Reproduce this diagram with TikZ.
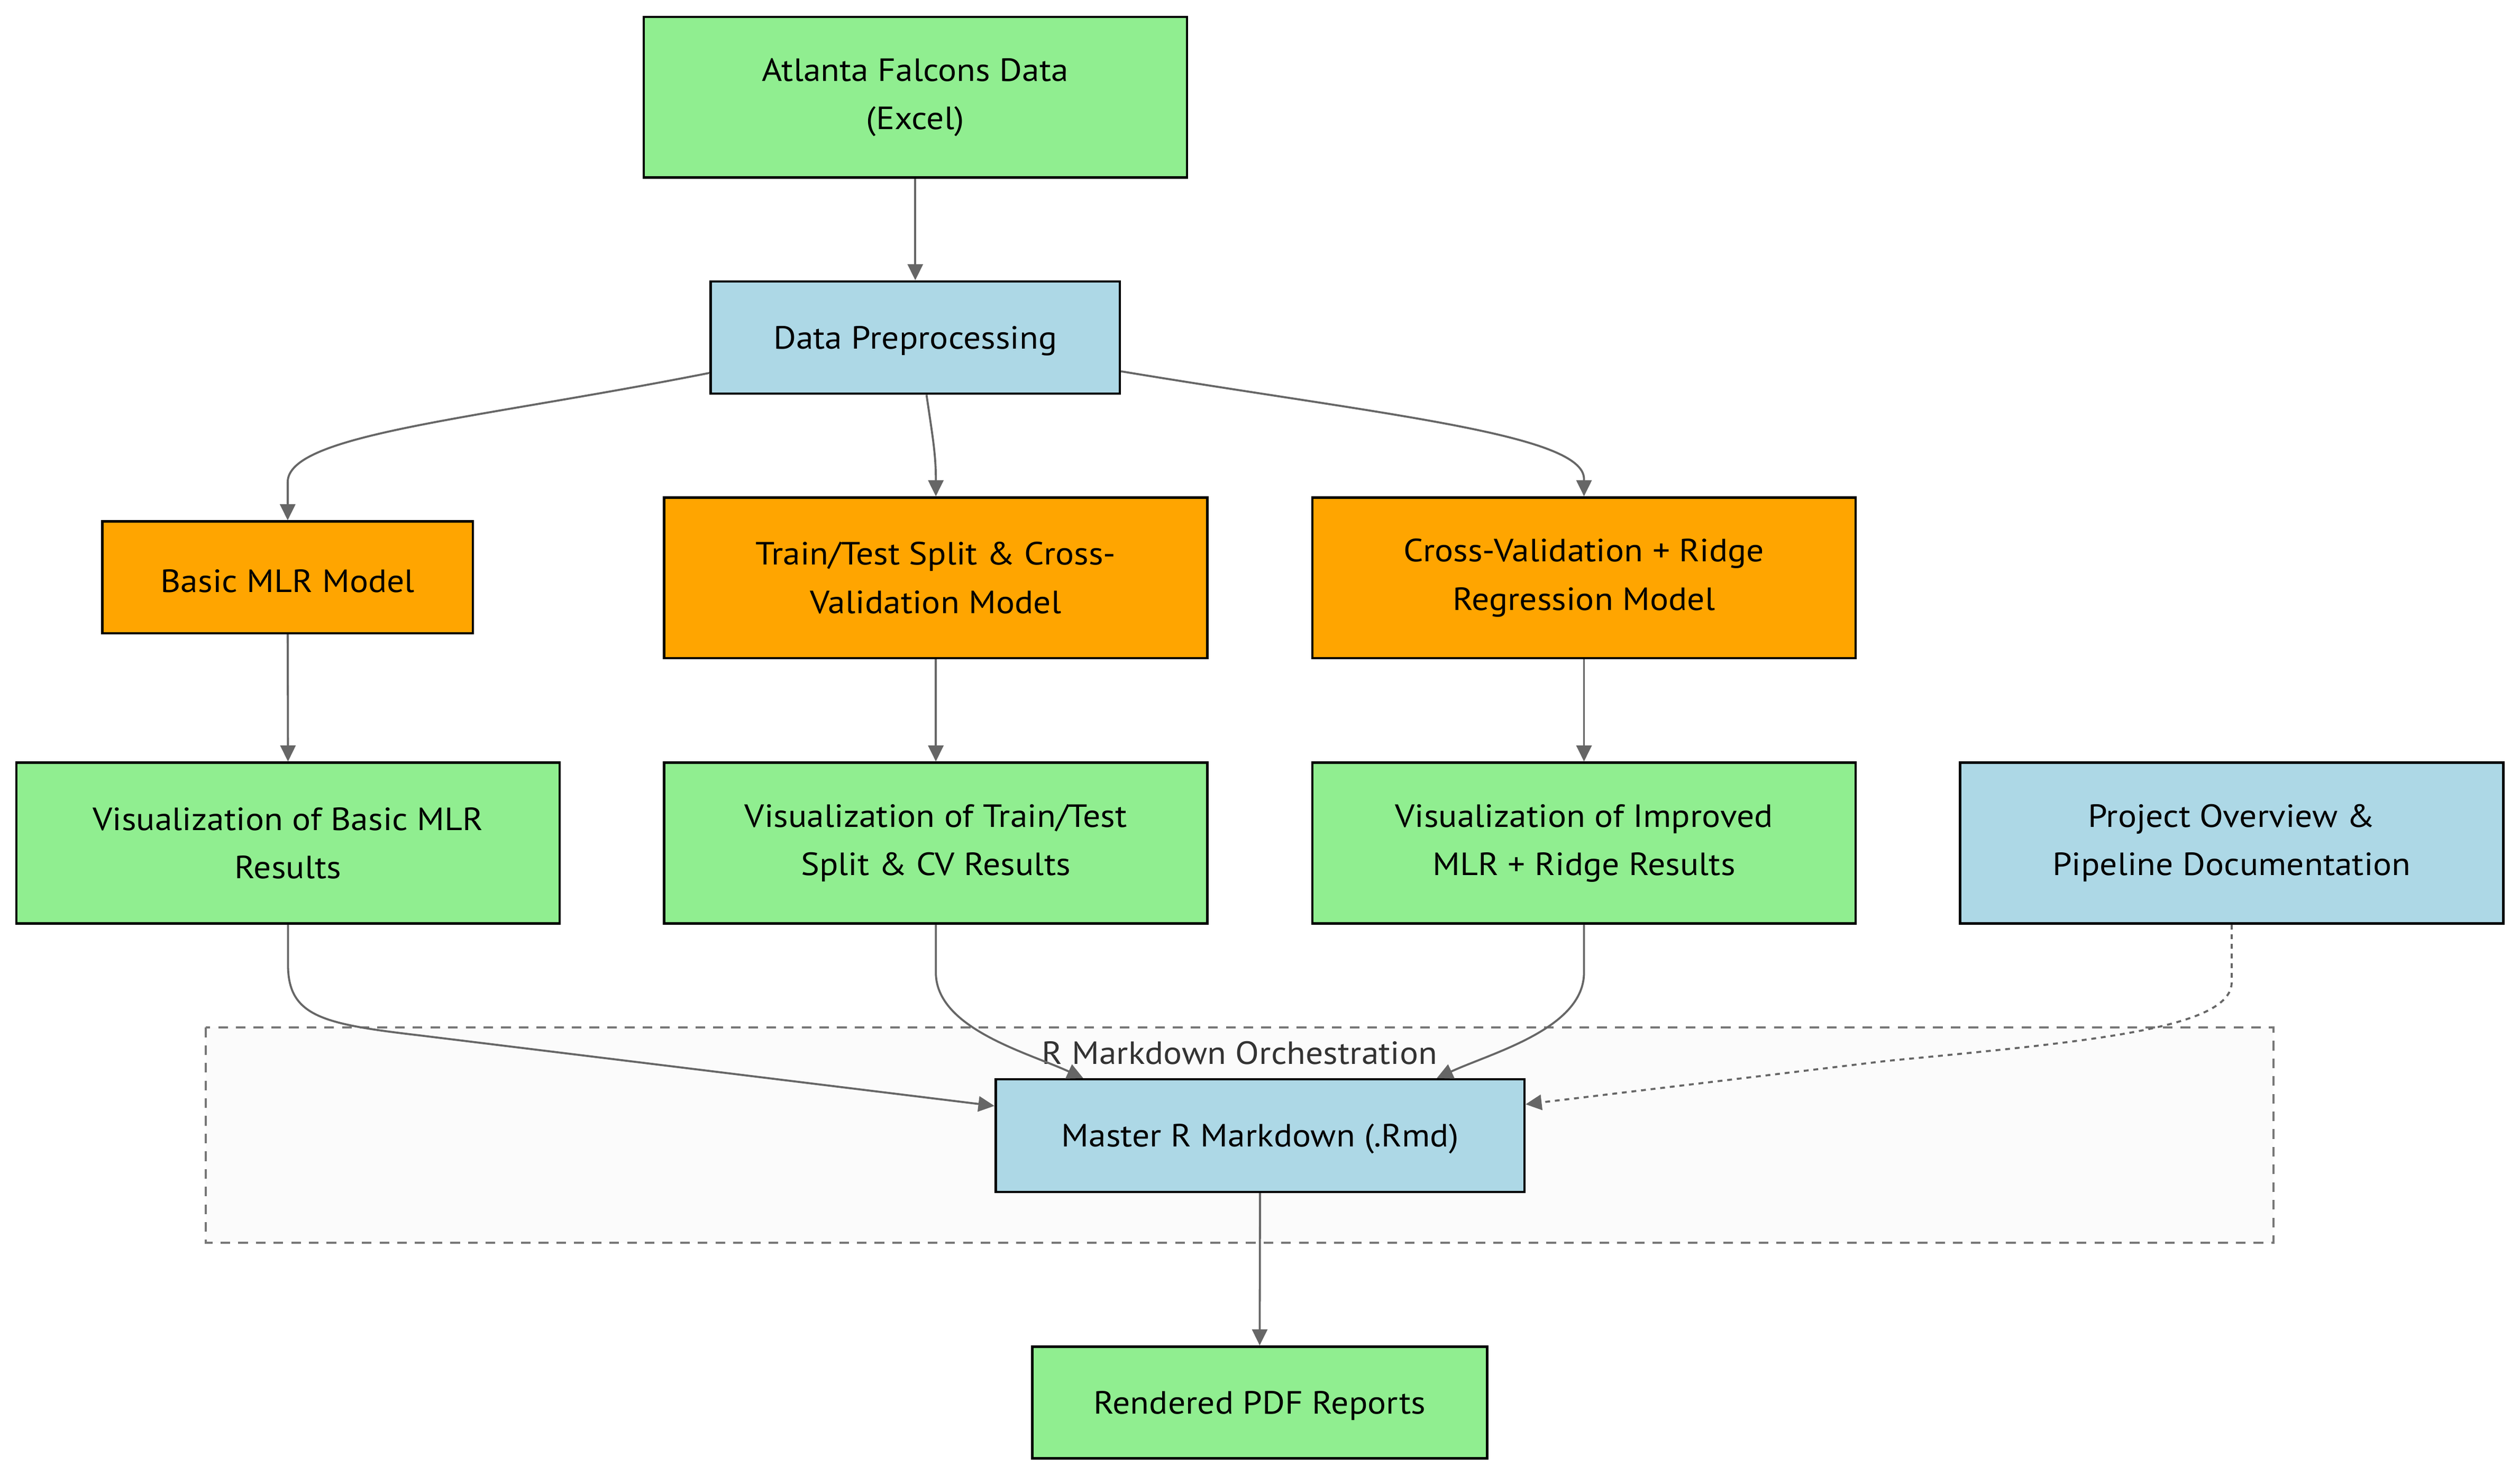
\documentclass[tikz,border=0pt]{standalone}
\usepackage{fontspec}
\setmainfont{PT Sans}[FakeStretch=1.08]
\usetikzlibrary{arrows.meta,calc}
\definecolor{lgreen}{HTML}{90EE90}
\definecolor{lblue}{HTML}{ADD8E6}
\definecolor{lorange}{HTML}{FFA500}
\definecolor{edgegray}{HTML}{666666}
\definecolor{clgray}{HTML}{777777}
\definecolor{clfill}{HTML}{FBFBFB}
\definecolor{labgray}{HTML}{333333}
\begin{document}
\begin{tikzpicture}[x=1pt,y=-1pt,
  box/.style={draw=black,line width=1.5pt,rectangle,inner sep=0pt,align=center,
    font=\fontsize{20}{30}\selectfont,execute at begin node={\rule{0pt}{18.5pt}}},
  wide/.style={box,minimum width=338pt,minimum height=100pt},
  greenbox/.style={fill=lgreen},
  bluebox/.style={fill=lblue},
  orangebox/.style={fill=lorange},
  conn/.style={draw=edgegray,line width=1.25pt,-{Triangle[length=10pt,width=9.5pt]}},
  dotconn/.style={conn,dash pattern=on 3pt off 3pt},
  cluster/.style={draw=clgray,fill=clfill,line width=1.3pt,dash pattern=on 6pt off 5pt}
]
\useasboundingbox (0,0) rectangle (1568,917.6);

% cluster
\draw[cluster] (128,639.3) rectangle (1414.6,773.1);
\node[font=\fontsize{20}{30}\selectfont,text=labgray,inner sep=0pt] (cllabel) at (771.4,655) {R Markdown Orchestration};

% nodes
\node[wide,greenbox] (atl) at (569.5,60.5) {Atlanta Falcons Data\\(Excel)};
\node[box,bluebox,minimum width=254.5pt,minimum height=69.8pt] (pre) at (569.5,210) {Data Preprocessing};
\node[box,orangebox,minimum width=230.5pt,minimum height=69.5pt] (mlr) at (179,359.2) {Basic MLR Model};
\node[wide,orangebox] (tt) at (582.3,359.5) {Train/Test Split \& Cross-\\Validation Model};
\node[wide,orangebox] (cv) at (985.6,359.5) {Cross-Validation + Ridge\\Regression Model};
\node[wide,greenbox] (v1) at (179.2,524.5) {Visualization of Basic MLR\\Results};
\node[wide,greenbox] (v2) at (582.3,524.5) {Visualization of Train/Test\\Split \& CV Results};
\node[wide,greenbox] (v3) at (985.6,524.5) {Visualization of Improved\\MLR + Ridge Results};
\node[wide,bluebox] (po) at (1388.6,524.5) {Project Overview \&\\Pipeline Documentation};
\node[box,bluebox,minimum width=329pt,minimum height=70pt] (mst) at (784,706.5) {Master R Markdown (.Rmd)};
\node[box,greenbox,minimum width=283pt,minimum height=69.5pt] (pdf) at (783.8,872.5) {Rendered PDF Reports};

% connectors
\draw[conn] (atl.south) -- (pre.north);
\draw[conn] ($(pre.west)+(0,22)$) .. controls (295,261) and (179,270) .. (179,300) -- (mlr.north);
\draw[conn] ($(pre.south)+(7,0)$) .. controls (580,270) and (582.3,282) .. (582.3,298) -- (tt.north);
\draw[conn] ($(pre.east)+(0,21)$) .. controls (860,258) and (985.6,270) .. (985.6,298) -- (cv.north);
\draw[conn] (mlr.south) -- (v1.north);
\draw[conn] (tt.south) -- (v2.north);
\draw[conn] (cv.south) -- (v3.north);

\coordinate (v1b) at (179.2,600);
\draw[conn] (v1.south) -- (v1b) .. controls (179.2,632) and (200,637) .. (260,644) -- ($(mst.west)+(0,-18.5)$);
\coordinate (v2b) at (582.3,605);
\draw[conn] (v2.south) -- (v2b) .. controls (582.3,640) and (640,655) .. ($(mst.north)+(-110,0)$);
\coordinate (v3b) at (985.6,605);
\draw[conn] (v3.south) -- (v3b) .. controls (985.6,640) and (928,655) .. ($(mst.north)+(110,0)$);
\coordinate (pob) at (1388.6,611);
\draw[dotconn] (po.south) -- (pob) .. controls (1388.6,640) and (1300,648) .. (1174,660) -- ($(mst.east)+(0,-19.5)$);

\draw[conn] (mst.south) -- (pdf.north);
\end{tikzpicture}
\end{document}
